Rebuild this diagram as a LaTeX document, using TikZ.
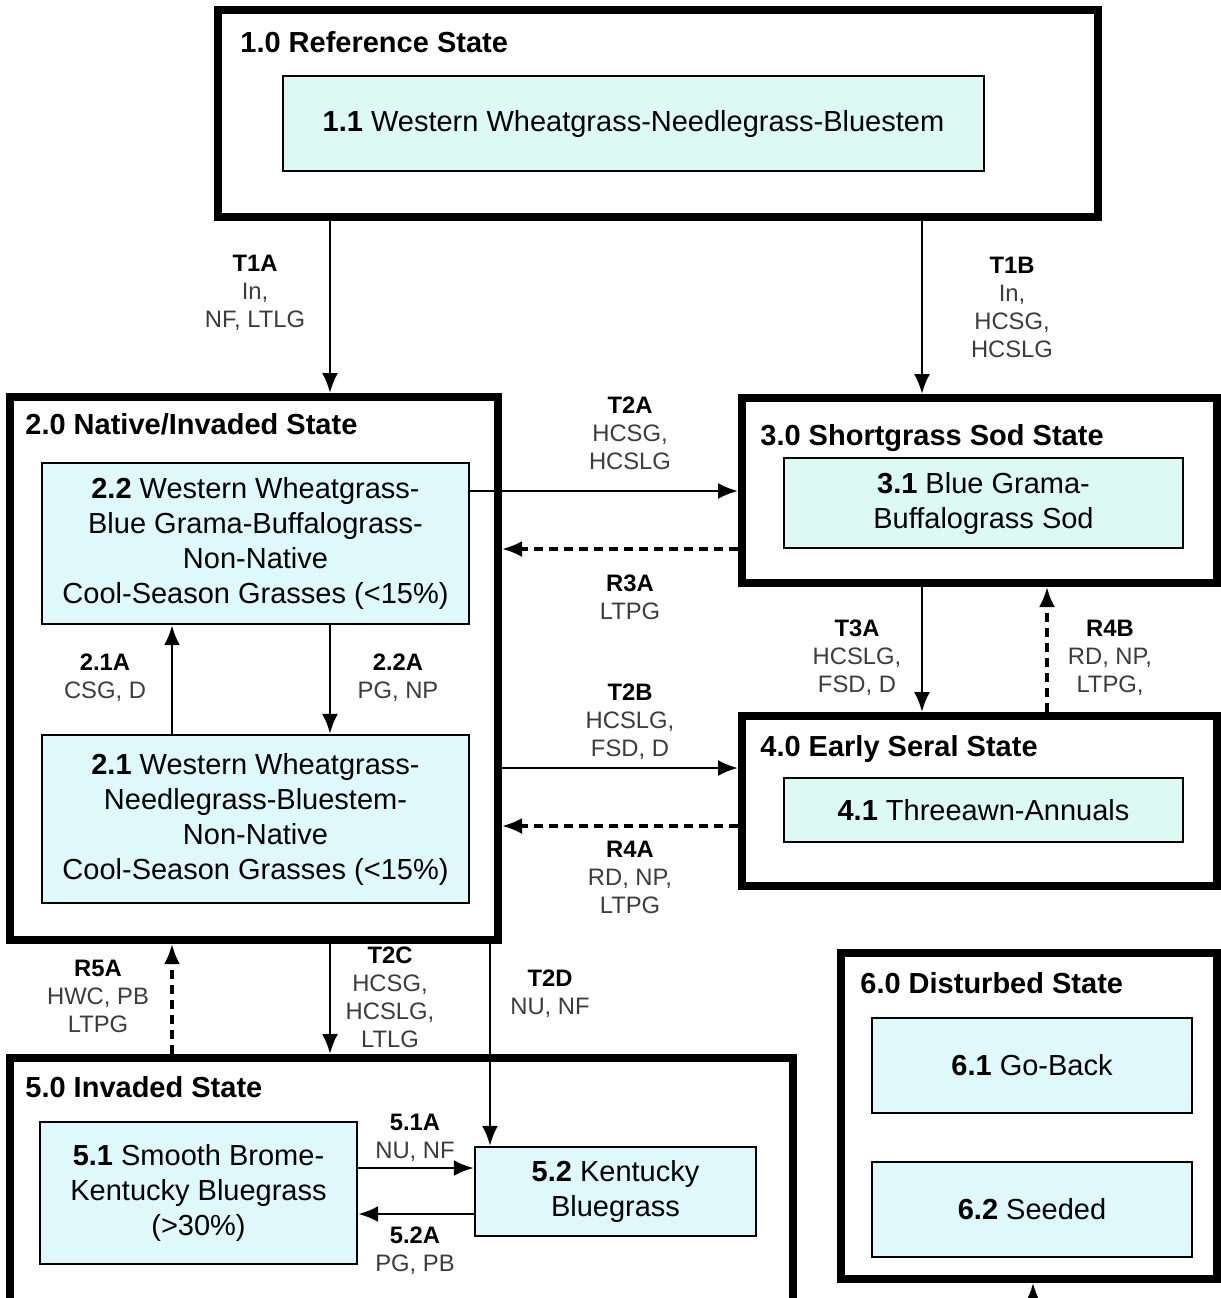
\documentclass[tikz,border=0pt]{standalone}
\usepackage{fontspec}
\setmainfont{Liberation Sans}
\usetikzlibrary{arrows.meta}
\definecolor{phasegreen}{HTML}{DCFAF3}
\definecolor{phaseblue}{HTML}{DEF8FC}
\definecolor{lblgray}{HTML}{3C3C3C}
\tikzset{
  statebox/.style={draw, line width=4pt, fill=white},
  phasebox/.style={draw, line width=1.2pt, fill=phaseblue, align=center, inner sep=0pt,
                   font=\fontsize{14.5}{17.5}\selectfont},
  ttl/.style={anchor=base west, inner sep=0pt, font=\fontsize{14.5}{17.5}\selectfont\bfseries},
  lbl/.style={align=center, inner sep=0pt, text=lblgray, font=\fontsize{11.9}{14}\selectfont},
  arr/.style={line width=1.3pt, -{Latex[length=10pt,width=8pt]}},
  rarr/.style={arr, line width=1.6pt, dash pattern=on 4.5pt off 3pt},
}
\newcommand{\tcode}[1]{\textcolor{black}{\textbf{#1}}}

\begin{document}
\begin{tikzpicture}[x=0.5pt, y=-0.5pt]
  \clip (0,0) rectangle (1221,1298);
  \fill[white] (0,0) rectangle (1221,1298);
  % states
  \node[statebox, minimum width=440pt, minimum height=103.5pt] (s1) at (658,113.5) {};
  \node[statebox, minimum width=244pt, minimum height=271.5pt] (s2) at (254,668.5) {};
  \node[statebox, minimum width=237.5pt, minimum height=92.5pt] (s3) at (979.5,490.5) {};
  \node[statebox, minimum width=237.5pt, minimum height=85pt] (s4) at (979.5,801) {};
  \node[statebox, minimum width=391.5pt, minimum height=127pt] (s5) at (401.5,1185) {};
  \node[statebox, minimum width=188pt, minimum height=163pt] (s6) at (1029,1116) {};
  \node[ttl] (ttl1) at (240,52) {1.0 Reference State};
  \node[ttl] (ttl2) at (25,434) {2.0 Native/Invaded State};
  \node[ttl] (ttl3) at (760,445) {3.0 Shortgrass Sod State};
  \node[ttl] (ttl4) at (760,756) {4.0 Early Seral State};
  \node[ttl] (ttl5) at (25,1097) {5.0 Invaded State};
  \node[ttl] (ttl6) at (860,993) {6.0 Disturbed State};
  % community phases
  \node[phasebox, fill=phasegreen, minimum width=350.5pt, minimum height=47.5pt] (p11) at (633.5,123.5)
    {\textbf{1.1} Western Wheatgrass-Needlegrass-Bluestem};
  \node[phasebox, minimum width=213.5pt, minimum height=80.5pt] (p22) at (255.5,543.5)
    {\textbf{2.2} Western Wheatgrass-\\Blue Grama-Buffalograss-\\Non-Native\\Cool-Season Grasses (<15\%)};
  \node[phasebox, minimum width=213.5pt, minimum height=84pt] (p21) at (255.5,819)
    {\textbf{2.1} Western Wheatgrass-\\Needlegrass-Bluestem-\\Non-Native\\Cool-Season Grasses (<15\%)};
  \node[phasebox, fill=phasegreen, minimum width=199.5pt, minimum height=45pt] (p31) at (983.5,503)
    {\textbf{3.1} Blue Grama-\\Buffalograss Sod};
  \node[phasebox, fill=phasegreen, minimum width=199.5pt, minimum height=32pt] (p41) at (983.5,810)
    {\textbf{4.1} Threeawn-Annuals};
  \node[phasebox, minimum width=158.5pt, minimum height=71pt] (p51) at (198.5,1193)
    {\textbf{5.1} Smooth Brome-\\Kentucky Bluegrass\\(>30\%)};
  \node[phasebox, minimum width=140.5pt, minimum height=44.5pt] (p52) at (615.5,1191.5)
    {\textbf{5.2} Kentucky\\Bluegrass};
  \node[phasebox, minimum width=160pt, minimum height=47.5pt] (p61) at (1032,1065.5) {\textbf{6.1} Go-Back};
  \node[phasebox, minimum width=160pt, minimum height=47.5pt] (p62) at (1032,1209.5) {\textbf{6.2} Seeded};
  % columns and rows for the connectors
  \coordinate (colA) at (330,0);
  \coordinate (colB) at (922,0);
  \coordinate (colC) at (172,0);
  \coordinate (colD) at (490,0);
  \coordinate (colE) at (1047,0);
  \coordinate (rowA) at (0,491);
  \coordinate (rowB) at (0,549);
  \coordinate (rowC) at (0,768);
  \coordinate (rowD) at (0,826);
  \coordinate (rowE) at (0,1168);
  \coordinate (rowF) at (0,1214);
  \coordinate (inflow) at (1033,1340);
  % transitions
  \draw[arr] (s1.south -| colA) -- (s2.north -| colA);
  \draw[arr] (s1.south -| colB) -- (s3.north -| colB);
  \draw[arr] (p22.east |- rowA) -- (s3.west |- rowA);
  \draw[rarr] (s3.west |- rowB) -- (s2.east |- rowB);
  \draw[arr] (s2.east |- rowC) -- (s4.west |- rowC);
  \draw[rarr] (s4.west |- rowD) -- (s2.east |- rowD);
  \draw[arr] (s3.south -| colB) -- (s4.north -| colB);
  \draw[rarr] (s4.north -| colE) -- (s3.south -| colE);
  \draw[arr] (p21.north -| colC) -- (p22.south -| colC);
  \draw[arr] (p22.south -| colA) -- (p21.north -| colA);
  \draw[rarr] (s5.north -| colC) -- (s2.south -| colC);
  \draw[arr] (s2.south -| colA) -- (s5.north -| colA);
  \draw[arr] (s2.south -| colD) -- (p52.north -| colD);
  \draw[arr] (p51.east |- rowE) -- (p52.west |- rowE);
  \draw[arr] (p52.west |- rowF) -- (p51.east |- rowF);
  \draw[arr] (inflow) -- (s6.south -| inflow);
  % labels
  \node[lbl] (lt1a) at (255,293) {\tcode{T1A}\\In,\\NF, LTLG};
  \node[lbl] (lt1b) at (1012,307) {\tcode{T1B}\\In,\\HCSG,\\HCSLG};
  \node[lbl] (lt2a) at (630,433) {\tcode{T2A}\\HCSG,\\HCSLG};
  \node[lbl] (lr3a) at (630,597) {\tcode{R3A}\\LTPG};
  \node[lbl] (lt2b) at (630,722) {\tcode{T2B}\\HCSLG,\\FSD, D};
  \node[lbl] (lr4a) at (630,877) {\tcode{R4A}\\RD, NP,\\LTPG};
  \node[lbl] (lt3a) at (857,658) {\tcode{T3A}\\HCSLG,\\FSD, D};
  \node[lbl] (lr4b) at (1110,658) {\tcode{R4B}\\RD, NP,\\LTPG,};
  \node[lbl] (l21a) at (105,678) {\tcode{2.1A}\\CSG, D};
  \node[lbl] (l22a) at (398,678) {\tcode{2.2A}\\PG, NP};
  \node[lbl] (lr5a) at (98,996) {\tcode{R5A}\\HWC, PB\\LTPG};
  \node[lbl] (lt2c) at (390,997) {\tcode{T2C}\\HCSG,\\HCSLG,\\LTLG};
  \node[lbl] (lt2d) at (550,994) {\tcode{T2D}\\NU, NF};
  \node[lbl] (l51a) at (415,1138) {\tcode{5.1A}\\NU, NF};
  \node[lbl] (l52a) at (415,1251) {\tcode{5.2A}\\PG, PB};
\end{tikzpicture}
\end{document}
